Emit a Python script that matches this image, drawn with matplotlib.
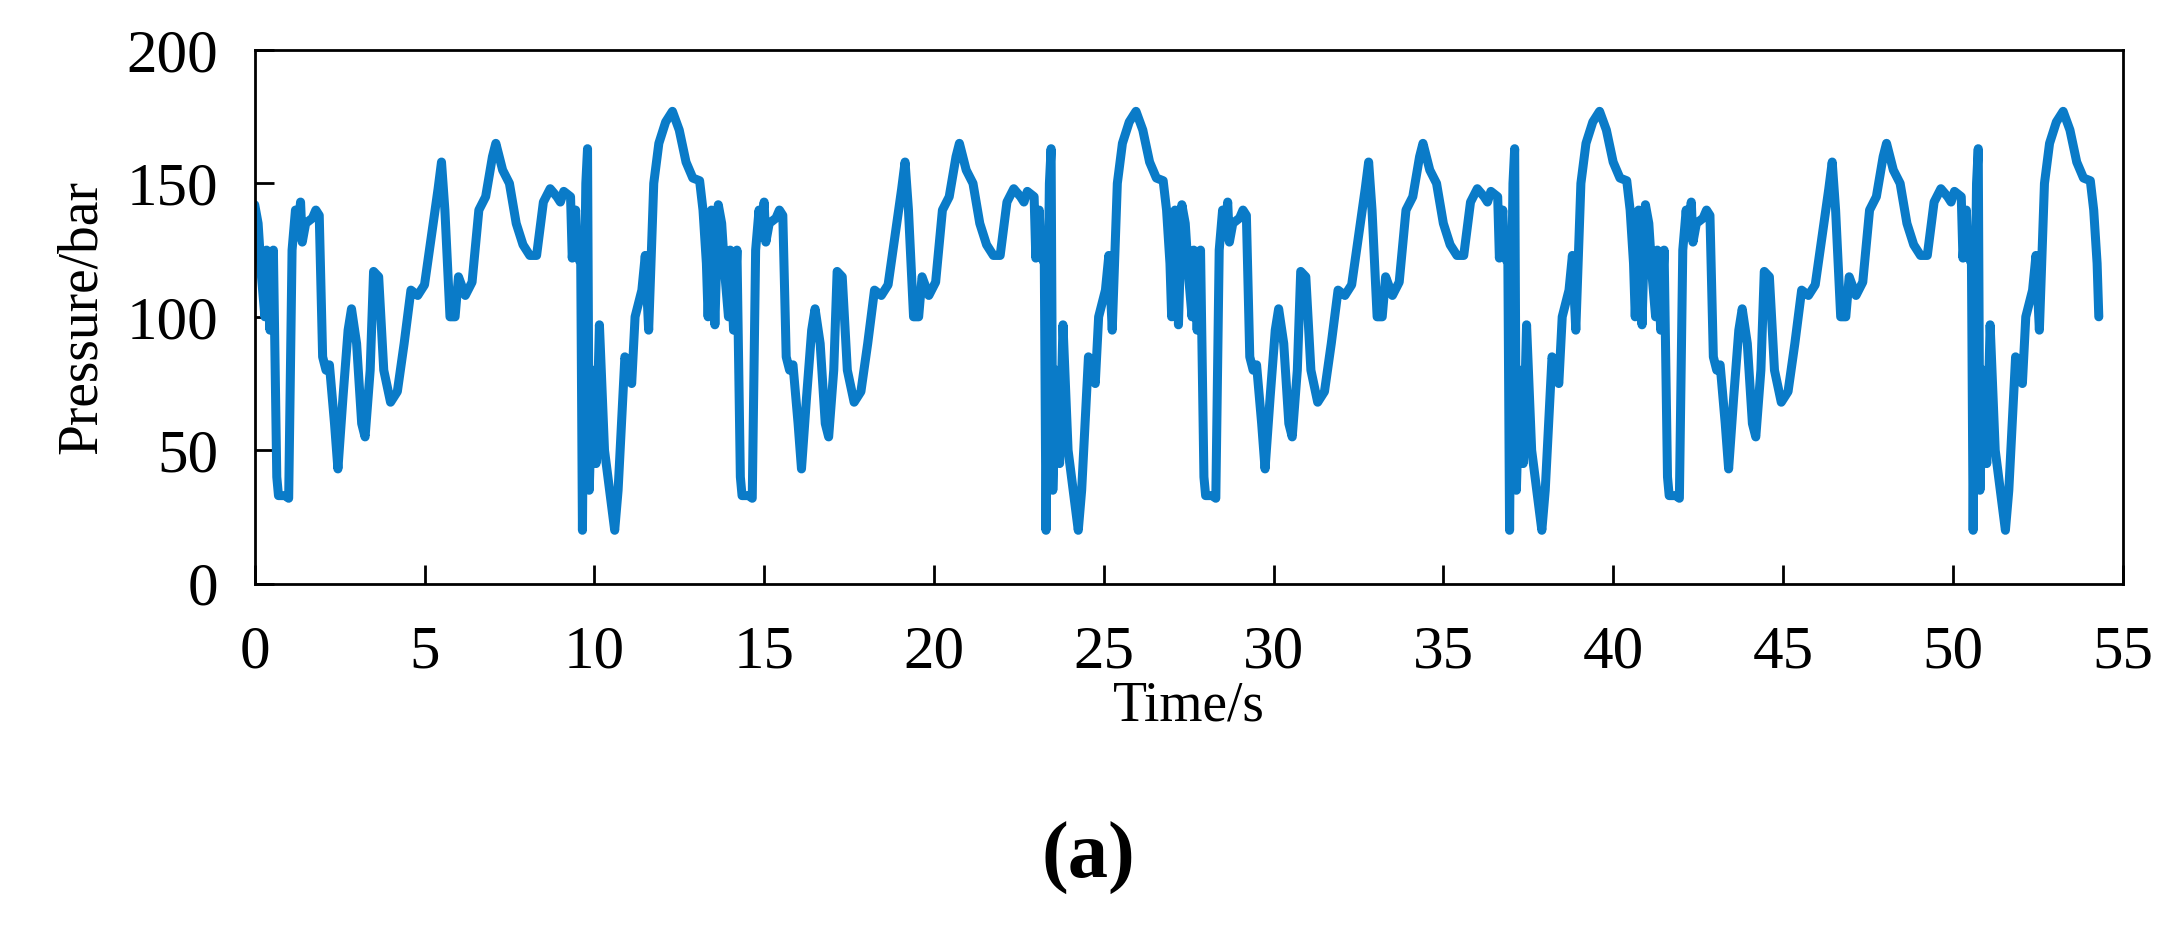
import numpy as np
import matplotlib
matplotlib.use("Agg")
import matplotlib.pyplot as plt

# One cycle of the pressure signal (time s, pressure bar)
cycle_t = [0.0,0.1,0.2,0.3,0.35,0.45,0.55,0.65,0.7,0.9,1.0,1.1,1.2,1.25,1.35,1.4,1.5,1.7,1.8,1.9,
           2.0,2.1,2.2,2.35,2.45,2.6,2.75,2.85,3.0,3.15,3.25,3.4,3.5,3.65,3.8,4.0,4.2,4.4,4.6,4.8,
           5.0,5.2,5.4,5.5,5.6,5.75,5.9,6.0,6.2,6.4,6.6,6.8,7.0,7.1,7.3,7.5,7.7,7.9,8.1,8.3,
           8.5,8.7,8.9,9.0,9.1,9.3,9.35,9.45,9.5,9.6,9.65,9.7,9.75,9.8,9.85,9.95,10.05,10.15,10.3,10.5,
           10.6,10.7,10.9,11.1,11.2,11.4,11.5,11.6,11.75,11.9,12.1,12.3,12.5,12.7,12.9,13.1,13.2,13.3,13.35,13.45,
           13.55]
cycle_p = [142,135,115,100,125,95,125,40,33,33,32,125,140,130,143,128,135,137,140,138,
           85,80,82,60,43,70,95,103,90,60,55,80,117,115,80,68,72,90,110,108,
           112,130,148,158,140,100,100,115,108,113,140,145,160,165,155,150,135,127,123,123,
           143,148,145,143,147,145,122,140,123,120,20,100,150,163,35,80,45,97,50,30,
           20,35,85,75,100,110,123,95,150,165,173,177,170,158,152,151,140,120,100,140,
           97]
period = 13.65
t_end = 54.4

xticks = [0,5,10,15,20,25,30,35,40,45,50,55]
yticks = [0,50,100,150,200]

ts, ps = [], []
for k in range(5):
    for t, p in zip(cycle_t, cycle_p):
        tt = t + k*period
        if tt <= t_end:
            ts.append(tt); ps.append(p)

plt.rcParams['font.family'] = ['Liberation Serif', 'DejaVu Serif']
fig = plt.figure(figsize=(21.77, 9.25), dpi=100)
ax = fig.add_axes([0.117, 0.369, 0.858, 0.577])
ax.plot(ts, ps, color='#0A7BC8', lw=6.5, solid_joinstyle='round', solid_capstyle='round')
ax.set_xlim(0, 55)
ax.set_ylim(0, 200)
ax.set_xticks(xticks)
ax.set_yticks(yticks)
ax.tick_params(direction='in', length=14, width=2, labelsize=44)
ax.tick_params(axis='x', pad=30)
ax.tick_params(axis='y', pad=26)
for s in ax.spines.values():
    s.set_linewidth(2)
ax.set_xlabel('Time/s', fontsize=40, labelpad=0)
ax.set_ylabel('Pressure/bar', fontsize=40, labelpad=14)
fig.text(0.5, 0.072, '(a)', ha='center', va='center', fontsize=58, fontweight='bold')
fig.savefig('out.png', dpi=100)
